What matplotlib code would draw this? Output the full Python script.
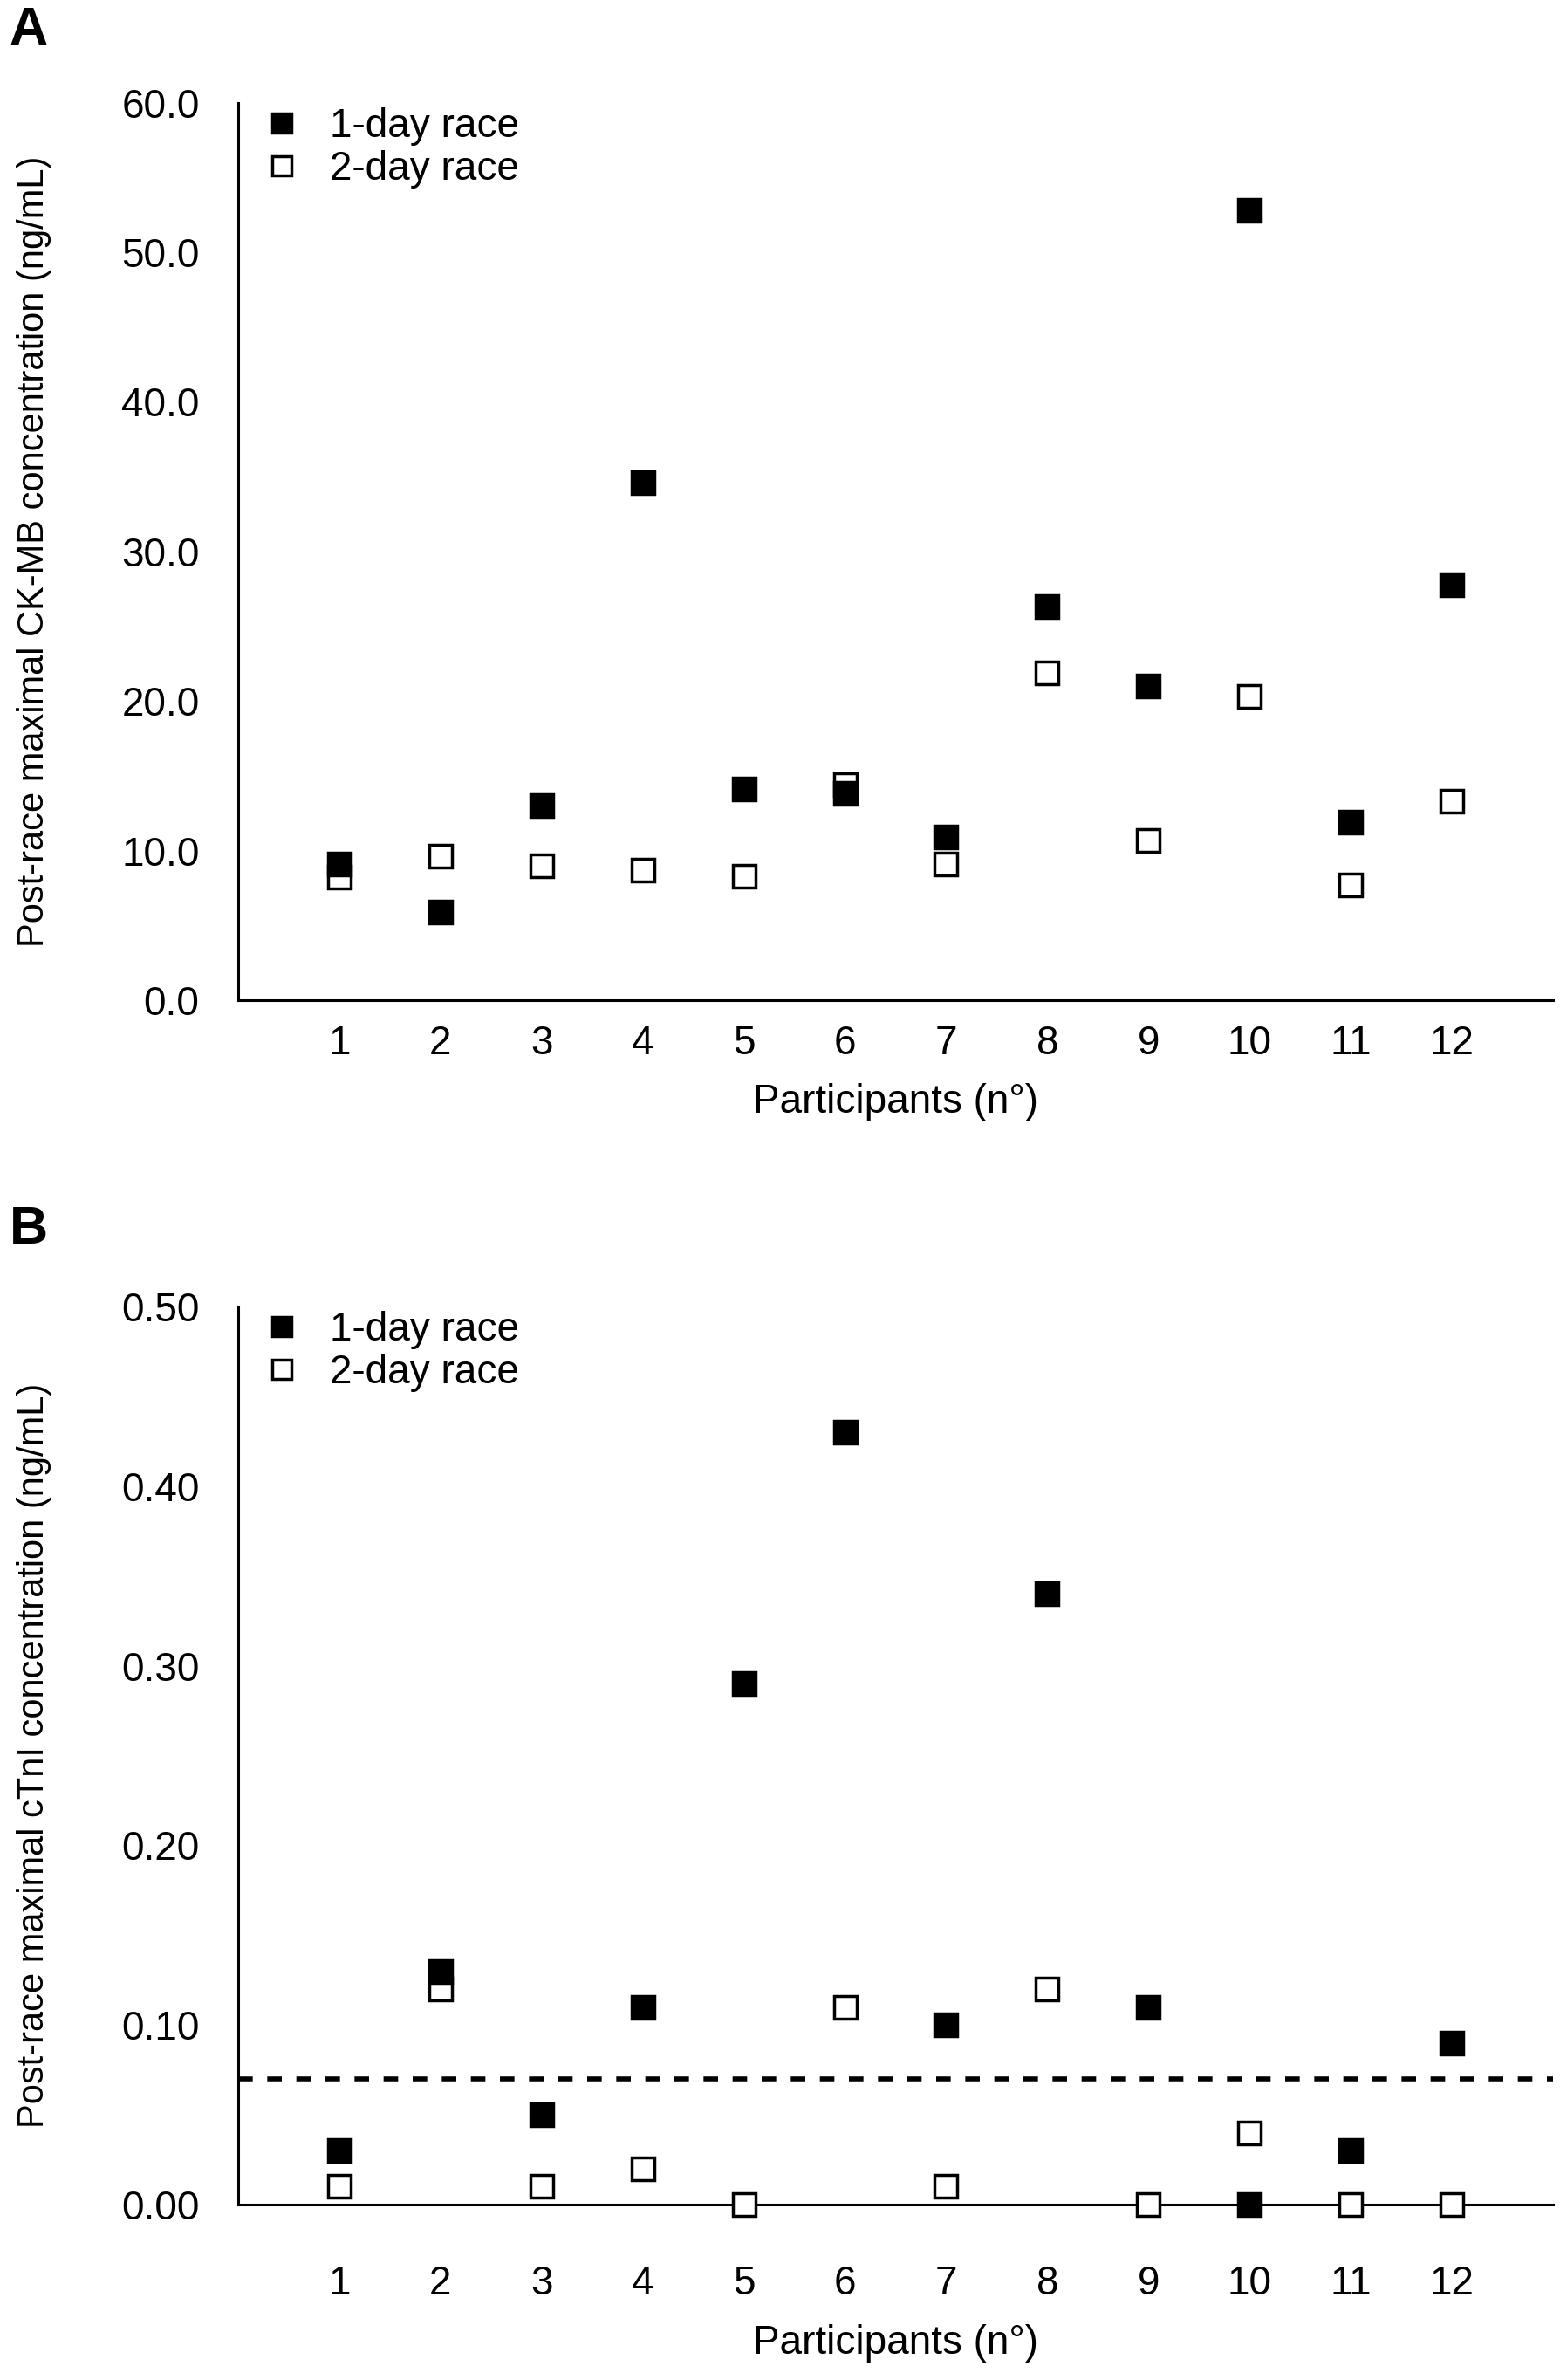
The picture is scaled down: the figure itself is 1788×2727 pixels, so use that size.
import matplotlib
matplotlib.use("Agg")
import matplotlib.pyplot as plt
import numpy as np

plt.rcParams['font.family'] = ['Liberation Sans', 'DejaVu Sans']

participants = np.arange(1, 13)
tick_labels = [str(p) for p in participants]

# Panel A: CK-MB (ng/mL)
ckmb_1day = [9.1, 5.9, 13.0, 34.6, 14.1, 13.8, 10.9, 26.3, 21.0, 52.8, 11.9, 27.8]
ckmb_2day = [8.2, 9.6, 9.0, 8.7, 8.3, 14.4, 9.1, 21.9, 10.7, 20.3, 7.7, 13.3]

# Panel B: cTnI (ng/mL)
ctni_1day = [0.03, 0.13, 0.05, 0.11, 0.29, 0.43, 0.10, 0.34, 0.11, 0.00, 0.03, 0.09]
ctni_2day = [0.01, 0.12, 0.01, 0.02, 0.00, 0.11, 0.01, 0.12, 0.00, 0.04, 0.00, 0.00]
ctni_cutoff = 0.07

fig = plt.figure(figsize=(17.88, 27.27), dpi=100)
axA = fig.add_axes([0.1527, 0.5798, 0.8428, 0.377])
axB = fig.add_axes([0.1527, 0.0737, 0.8428, 0.3773])

def style(ax, ylim, yticks, fmt, ylabel, xpad):
    ax.plot(participants, ylim[2], 's', ms=19, mfc='white', mec='black', mew=2.5,
            ls='none', label='2-day race', zorder=3, clip_on=False)
    ax.plot(participants, ylim[1], 's', ms=19, mfc='black', mec='black', mew=2.5,
            ls='none', label='1-day race', zorder=4, clip_on=False)
    ax.set_xlim(0, 13)
    ax.set_ylim(ylim[0])
    ax.set_yticks(yticks)
    ax.set_yticklabels([fmt.format(v) for v in yticks])
    ax.set_xticks(participants)
    ax.set_xticklabels(tick_labels)
    for s in ['top', 'right']:
        ax.spines[s].set_visible(False)
    for s in ['left', 'bottom']:
        ax.spines[s].set_linewidth(2.2)
    ax.tick_params(axis='both', length=0, labelsize=33)
    ax.tick_params(axis='y', pad=32)
    ax.tick_params(axis='x', pad=xpad)
    ax.set_xlabel('Participants (n°)', fontsize=33, labelpad=17)
    ax.set_ylabel(ylabel, fontsize=30, labelpad=58)
    h, l = ax.get_legend_handles_labels()
    ax.legend(h[::-1], l[::-1], loc='upper left', bbox_to_anchor=(-0.011, 1.026),
              frameon=False, fontsize=33, markerscale=0.8, handletextpad=0.45,
              handlelength=1.5, labelspacing=0.1, borderaxespad=0.3)

style(axA, ((0, 60), ckmb_1day, ckmb_2day), np.arange(0, 61, 10), '{:.1f}',
      'Post-race maximal CK-MB concentration (ng/mL)', 20)
style(axB, ((0, 0.5), ctni_1day, ctni_2day), np.arange(0, 0.51, 0.1), '{:.2f}',
      'Post-race maximal cTnI concentration (ng/mL)', 50)
axB.axhline(ctni_cutoff, color='black', lw=4, dashes=(3, 3), zorder=2)

fig.text(0.006, 0.987, 'A', fontsize=44, fontweight='bold', va='center')
fig.text(0.006, 0.483, 'B', fontsize=44, fontweight='bold', va='center')

fig.savefig('out.png', dpi=100)
